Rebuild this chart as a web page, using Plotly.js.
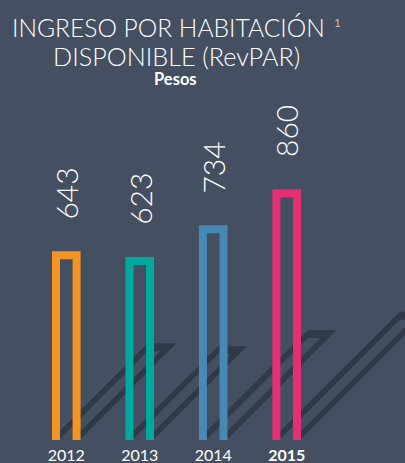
<!DOCTYPE html>
<html>
<head>
<meta charset="utf-8">
<script src="https://cdn.plot.ly/plotly-3.0.1.min.js"></script>
<style>
  html, body { margin: 0; padding: 0; background: #445061; }
  #chart { width: 405px; height: 463px; }
</style>
</head>
<body>
<div id="chart"></div>
<script>
// ---- data ----
const years = ['2012', '2013', '2014', '2015'];
const values = [643, 623, 734, 860];
const tickLabels = ['2012', '2013', '2014', '<b>2015</b>'];
const barColors = ['#f39425', '#00a99f', '#4589b4', '#e52e73'];

// ---- style ----
const BG = '#445061';
const SHADOW = '#2f3947';
const W = 405, H = 463;
const M = { l: 0, r: 0, t: 0, b: 23, pad: 0 };
const xr = [-0.9024, 4.610];
const yr = [-3.5, 1536.6];
const pxX = (W - M.l - M.r) / (xr[1] - xr[0]);
const pxY = (H - M.t - M.b) / (yr[1] - yr[0]);
const STROKE = 8;          // bar outline thickness (px)
const HALF = 10.3;         // half distance between outline centre-lines (px)
const SHADOW_K = 0.51;     // shadow length relative to bar height
const TITLE_FONT = 'Lato, sans-serif';

const xs = years.map((_, i) => i);
const traces = [];

// shadows (sheared inverted-U polygons)
xs.forEach((xi, i) => {
  const hOut = values[i] * pxY + STROKE / 2;
  const s = SHADOW_K * hOut;
  const L = -HALF - STROKE / 2, Li = -HALF + STROKE / 2;
  const Ri = HALF - STROKE / 2, R = HALF + STROKE / 2;
  const pts = [
    [L, 0], [L + s, s], [R + s, s], [R, 0],
    [Ri, 0], [Ri + s - STROKE, s - STROKE], [Li + s - STROKE, s - STROKE], [Li, 0], [L, 0]
  ];
  traces.push({
    type: 'scatter', mode: 'lines',
    x: pts.map(p => xi + p[0] / pxX),
    y: pts.map(p => p[1] / pxY),
    fill: 'toself', fillcolor: SHADOW,
    line: { width: 0, color: SHADOW },
    hoverinfo: 'skip', showlegend: false
  });
});

// bars (inverted-U outlines)
xs.forEach((xi, i) => {
  const hw = HALF / pxX;
  const low = yr[0] - 60;
  traces.push({
    type: 'scatter', mode: 'lines',
    x: [xi - hw, xi - hw, xi + hw, xi + hw],
    y: [low, values[i], values[i], low],
    line: { width: STROKE, color: barColors[i] },
    hoverinfo: 'skip', showlegend: false
  });
});

const annotations = values.map((v, i) => ({
  x: xs[i], y: v, xref: 'x', yref: 'y',
  text: String(v), showarrow: false, textangle: -90,
  xanchor: 'center', yanchor: 'bottom', yshift: 34,
  font: { family: 'Lato, sans-serif', size: 30, color: '#ffffff', weight: 300 }
}));

annotations.push(
  { xref: 'paper', yref: 'paper', x: 10 / W, y: 1 - 27 / (H - M.b), xanchor: 'left', yanchor: 'middle',
    text: 'INGRESO POR HABITACIÓN', showarrow: false,
    font: { family: TITLE_FONT, size: 24.6, color: '#ffffff', weight: 300 } },
  { xref: 'paper', yref: 'paper', x: 337 / W, y: 1 - 22 / (H - M.b), xanchor: 'center', yanchor: 'middle',
    text: '1', showarrow: false,
    font: { family: TITLE_FONT, size: 12, color: '#ffffff', weight: 300 } },
  { xref: 'paper', yref: 'paper', x: 176 / W, y: 1 - 56 / (H - M.b), xanchor: 'center', yanchor: 'middle',
    text: 'DISPONIBLE (RevPAR)', showarrow: false,
    font: { family: TITLE_FONT, size: 25.2, color: '#ffffff', weight: 300 } },
  { xref: 'paper', yref: 'paper', x: 175 / W, y: 1 - 78.5 / (H - M.b), xanchor: 'center', yanchor: 'middle',
    text: '<b>Pesos</b>', showarrow: false,
    font: { family: TITLE_FONT, size: 16.5, color: '#ffffff' } }
);

const layout = {
  width: W, height: H, margin: M,
  paper_bgcolor: BG, plot_bgcolor: BG,
  showlegend: false,
  xaxis: {
    range: xr, showgrid: false, zeroline: false, showline: false,
    tickmode: 'array', tickvals: xs, ticktext: tickLabels, ticks: '',
    ticklabelstandoff: 4,
    tickfont: { family: 'Lato, sans-serif', size: 16, color: '#ffffff' },
    fixedrange: true
  },
  yaxis: {
    range: yr, showgrid: false, zeroline: false, showline: false,
    showticklabels: false, ticks: '', fixedrange: true
  },
  annotations: annotations
};

Plotly.newPlot('chart', traces, layout, { displayModeBar: false, staticPlot: true });
</script>
</body>
</html>
